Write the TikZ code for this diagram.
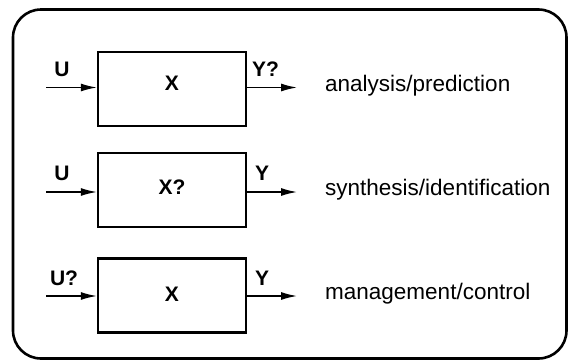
\documentclass[tikz,border=0pt]{standalone}
\usepackage{fontspec}
\setmainfont{Liberation Sans}
\usetikzlibrary{arrows.meta}
\begin{document}
\begin{tikzpicture}[x=1pt,y=-1pt,
  sysbox/.style={draw,line width=2.4pt,minimum width=148pt,minimum height=74pt,inner sep=0pt},
  sig/.style={line width=1.4pt,-{Latex[length=16pt,width=8pt]}},
  lbl/.style={font=\fontsize{21}{23}\selectfont\bfseries,inner sep=0pt},
  txt/.style={font=\fontsize{22.5}{25}\selectfont,anchor=west,inner sep=0pt}]
\useasboundingbox (0,0) rectangle (568,360);
\draw[line width=2.6pt,rounded corners=28pt] (13,9.5) rectangle (566.5,358.5);
% row 1
\node[sysbox] (b1) at (172,89) {};
\node[lbl] (x1) at (172,83) {X};
\coordinate (i1) at (46,87.5);
\coordinate (o1) at (297,87.5);
\draw[sig] (i1) -- (b1.west |- i1);
\draw[sig] (b1.east |- o1) -- (o1);
\node[lbl] (u1) at (62,69) {U};
\node[lbl,anchor=west] (y1) at (252,69) {Y?};
\node[txt] (t1) at (325,86) {analysis/prediction};
% row 2
\node[sysbox] (b2) at (172,190) {};
\node[lbl] (x2) at (172,187) {X?};
\coordinate (i2) at (46,192);
\coordinate (o2) at (297,192);
\draw[sig] (i2) -- (b2.west |- i2);
\draw[sig] (b2.east |- o2) -- (o2);
\node[lbl] (u2) at (62,173) {U};
\node[lbl,anchor=west] (y2) at (255,173) {Y};
\node[txt] (t2) at (325,190) {synthesis/identification};
% row 3
\node[sysbox] (b3) at (172,295.5) {};
\node[lbl] (x3) at (172,294) {X};
\coordinate (i3) at (46,296);
\coordinate (o3) at (297,296);
\draw[sig] (i3) -- (b3.west |- i3);
\draw[sig] (b3.east |- o3) -- (o3);
\node[lbl] (u3) at (64,278) {U?};
\node[lbl,anchor=west] (y3) at (255,278) {Y};
\node[txt] (t3) at (325,294) {management/control};
\end{tikzpicture}
\end{document}
